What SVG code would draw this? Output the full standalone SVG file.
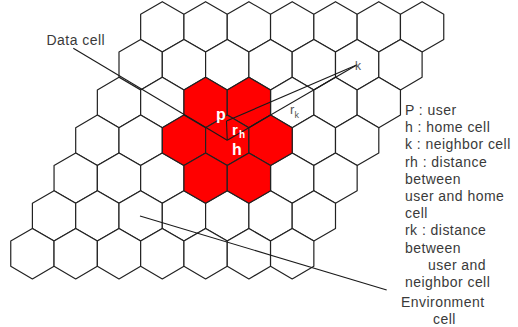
<svg xmlns="http://www.w3.org/2000/svg" width="518" height="327" viewBox="0 0 518 327">
<style>
.cell{fill:#ffffff;stroke:#222;stroke-width:1.2;stroke-linejoin:round}
.red{fill:#ff0000}
.ln{stroke:#1a1a1a;stroke-width:1.1;fill:none}
.t{font-family:"Liberation Sans",Arial,sans-serif;font-size:14px;fill:#3a3a3a;letter-spacing:0.45px}
.w{font-family:"Liberation Sans",Arial,sans-serif;font-weight:bold;fill:#ffffff}
.g{font-family:"Liberation Sans",Arial,sans-serif;fill:#555}
</style>
<defs>
<path id="hex" d="M0 -25.2 L21.65 -12.6 L21.65 12.6 L0 25.2 L-21.65 12.6 L-21.65 -12.6 Z"/>
</defs>
<rect width="518" height="327" fill="#ffffff"/>
<g id="cells">
<g id="c00"><use href="#hex" class="cell" x="162.3" y="26.9"/></g>
<g id="c01"><use href="#hex" class="cell" x="205.6" y="26.9"/></g>
<g id="c02"><use href="#hex" class="cell" x="248.9" y="26.9"/></g>
<g id="c03"><use href="#hex" class="cell" x="292.2" y="26.9"/></g>
<g id="c04"><use href="#hex" class="cell" x="335.5" y="26.9"/></g>
<g id="c05"><use href="#hex" class="cell" x="378.8" y="26.9"/></g>
<g id="c06"><use href="#hex" class="cell" x="422.1" y="26.9"/></g>
<g id="c10"><use href="#hex" class="cell" x="140.65" y="64.7"/></g>
<g id="c11"><use href="#hex" class="cell" x="183.95" y="64.7"/></g>
<g id="c12"><use href="#hex" class="cell" x="227.25" y="64.7"/></g>
<g id="c13"><use href="#hex" class="cell" x="270.55" y="64.7"/></g>
<g id="c14"><use href="#hex" class="cell" x="313.85" y="64.7"/></g>
<g id="c15"><use href="#hex" class="cell" x="357.15" y="64.7"/></g>
<g id="c16"><use href="#hex" class="cell" x="400.45" y="64.7"/></g>
<g id="c20"><use href="#hex" class="cell" x="119" y="102.5"/></g>
<g id="c21"><use href="#hex" class="cell" x="162.3" y="102.5"/></g>
<g id="c24"><use href="#hex" class="cell" x="292.2" y="102.5"/></g>
<g id="c25"><use href="#hex" class="cell" x="335.5" y="102.5"/></g>
<g id="c26"><use href="#hex" class="cell" x="378.8" y="102.5"/></g>
<g id="c30"><use href="#hex" class="cell" x="97.35" y="140.3"/></g>
<g id="c31"><use href="#hex" class="cell" x="140.65" y="140.3"/></g>
<g id="c35"><use href="#hex" class="cell" x="313.85" y="140.3"/></g>
<g id="c36"><use href="#hex" class="cell" x="357.15" y="140.3"/></g>
<g id="c40"><use href="#hex" class="cell" x="75.7" y="178.1"/></g>
<g id="c41"><use href="#hex" class="cell" x="119" y="178.1"/></g>
<g id="c42"><use href="#hex" class="cell" x="162.3" y="178.1"/></g>
<g id="c45"><use href="#hex" class="cell" x="292.2" y="178.1"/></g>
<g id="c46"><use href="#hex" class="cell" x="335.5" y="178.1"/></g>
<g id="c50"><use href="#hex" class="cell" x="54.05" y="215.9"/></g>
<g id="c51"><use href="#hex" class="cell" x="97.35" y="215.9"/></g>
<g id="c52"><use href="#hex" class="cell" x="140.65" y="215.9"/></g>
<g id="c53"><use href="#hex" class="cell" x="183.95" y="215.9"/></g>
<g id="c54"><use href="#hex" class="cell" x="227.25" y="215.9"/></g>
<g id="c55"><use href="#hex" class="cell" x="270.55" y="215.9"/></g>
<g id="c56"><use href="#hex" class="cell" x="313.85" y="215.9"/></g>
<g id="c60"><use href="#hex" class="cell" x="32.4" y="253.7"/></g>
<g id="c61"><use href="#hex" class="cell" x="75.7" y="253.7"/></g>
<g id="c62"><use href="#hex" class="cell" x="119" y="253.7"/></g>
<g id="c63"><use href="#hex" class="cell" x="162.3" y="253.7"/></g>
<g id="c64"><use href="#hex" class="cell" x="205.6" y="253.7"/></g>
<g id="c65"><use href="#hex" class="cell" x="248.9" y="253.7"/></g>
<g id="c66"><use href="#hex" class="cell" x="292.2" y="253.7"/></g>
</g>
<g id="data-cells">
<g id="c22"><use href="#hex" class="cell red" x="205.6" y="102.5"/></g>
<g id="c23"><use href="#hex" class="cell red" x="248.9" y="102.5"/></g>
<g id="c32"><use href="#hex" class="cell red" x="183.95" y="140.3"/></g>
<g id="home-cell"><use href="#hex" class="cell red" x="227.25" y="140.3"/></g>
<g id="c34"><use href="#hex" class="cell red" x="270.55" y="140.3"/></g>
<g id="c43"><use href="#hex" class="cell red" x="205.6" y="178.1"/></g>
<g id="c44"><use href="#hex" class="cell red" x="248.9" y="178.1"/></g>
</g>
<g id="connectors">
<path class="ln" d="M73.3 48.3 L227.25 140.3"/>
<path class="ln" d="M226.5 121 L227.25 140.3"/>
<path class="ln" d="M226.5 121 L357.15 64.7"/>
<path class="ln" d="M227.25 140.3 L357.15 64.7"/>
<path class="ln" d="M140 216 L386.7 290"/>
</g>
<g id="labels">
<text class="w" x="216" y="120" font-size="16">p</text>
<text class="w" x="232" y="134.5" font-size="15">r</text>
<text class="w" x="239" y="137.5" font-size="10">h</text>
<text class="w" x="232" y="154.5" font-size="16">h</text>
<text class="g" x="290" y="113.5" font-size="13">r</text>
<text class="g" x="294.5" y="117.5" font-size="9">k</text>
<text class="g" x="355" y="69.5" font-size="12">k</text>
<text class="t" x="46.5" y="45">Data cell</text>
</g>
<g id="legend" class="t">
<text x="405" y="115">P : user</text>
<text x="405" y="132.2">h : home cell</text>
<text x="405" y="149.4">k : neighbor cell</text>
<text x="405" y="166.6">rh : distance</text>
<text x="405" y="183.8">between</text>
<text x="405" y="201">user and home</text>
<text x="405" y="218.2">cell</text>
<text x="405" y="235.4">rk : distance</text>
<text x="405" y="252.6">between</text>
<text x="428" y="269.8">user and</text>
<text x="405" y="287">neighbor cell</text>
<text x="401" y="306.5">Environment</text>
<text x="433" y="323.5">cell</text>
</g>
</svg>
